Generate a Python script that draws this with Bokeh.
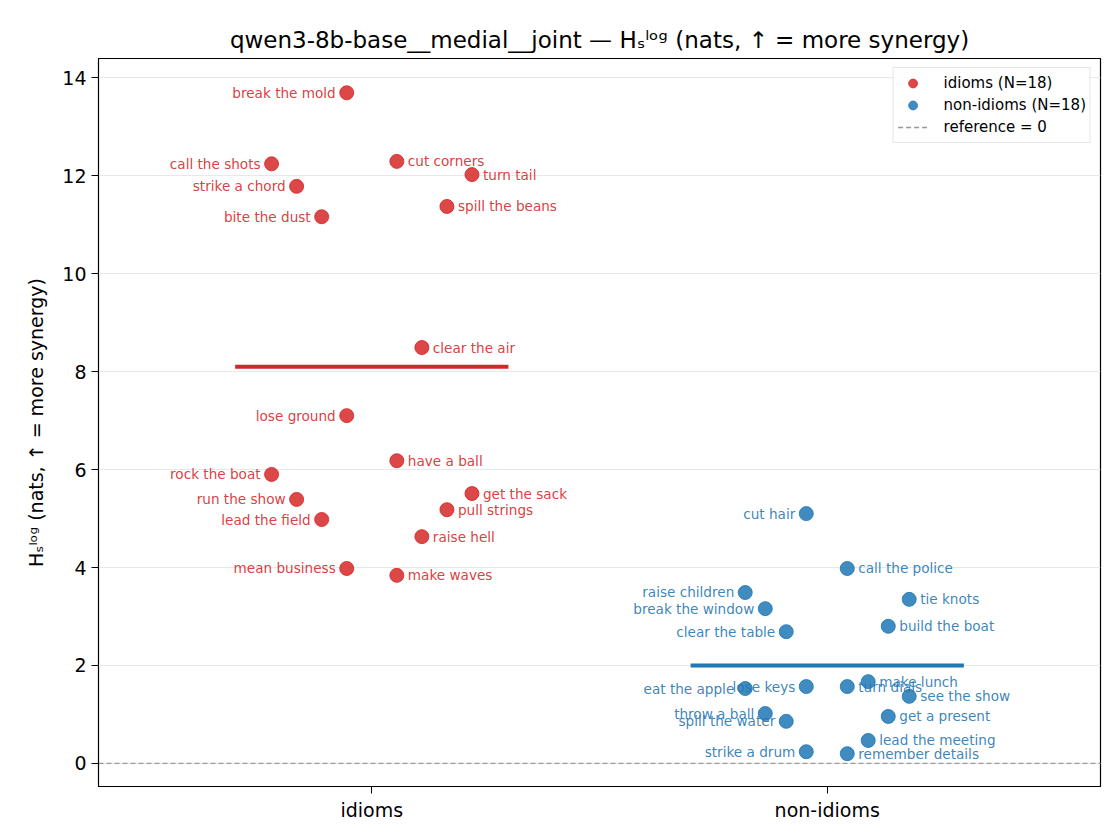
from bokeh.plotting import figure
from bokeh.models import (ColumnDataSource, FixedTicker, Span, Legend, LegendItem, Range1d)
from bokeh.core.properties import value
from bokeh.embed import file_html
from bokeh.resources import INLINE

categories = ["idioms", "non-idioms"]

idiom_names = ["break the mold", "call the shots", "cut corners", "strike a chord", "turn tail",
               "bite the dust", "spill the beans", "clear the air", "lose ground", "have a ball",
               "rock the boat", "run the show", "get the sack", "pull strings", "lead the field",
               "raise hell", "mean business", "make waves"]
idiom_values = [13.69, 12.24, 12.29, 11.78, 12.02, 11.16, 11.37, 8.49, 7.10, 6.18,
                5.90, 5.39, 5.51, 5.18, 4.98, 4.63, 3.98, 3.84]
idiom_jitter = [-0.055, -0.22, 0.055, -0.165, 0.22, -0.11, 0.165, 0.11, -0.055, 0.055,
                -0.22, -0.165, 0.22, 0.165, -0.11, 0.11, -0.055, 0.055]

nonidiom_names = ["cut hair", "call the police", "raise children", "tie knots", "break the window",
                  "build the boat", "clear the table", "make lunch", "eat the apple", "lose keys",
                  "turn dials", "see the show", "throw a ball", "spill the water", "get a present",
                  "lead the meeting", "strike a drum", "remember details"]
nonidiom_values = [5.10, 3.98, 3.49, 3.35, 3.16, 2.80, 2.69, 1.67, 1.53, 1.57,
                   1.57, 1.37, 1.02, 0.86, 0.96, 0.47, 0.24, 0.20]
nonidiom_jitter = [-0.046, 0.044, -0.18, 0.18, -0.136, 0.134, -0.09, 0.09, -0.18, -0.046,
                   0.044, 0.18, -0.136, -0.09, 0.134, 0.09, -0.046, 0.044]

reference_value = 0
x_lo, x_hi = -0.6, 1.6
y_lo, y_hi = -0.47, 14.39
colors = ["#d62728", "#1f77b4"]
FONT = "DejaVu Sans"

p = figure(width=1104, height=824, output_backend="svg", toolbar_location=None,
           x_range=Range1d(x_lo, x_hi), y_range=Range1d(y_lo, y_hi),
           min_border_left=98, min_border_right=4, min_border_top=58, min_border_bottom=38)

p.title.text = "qwen3-8b-base__medial__joint — Hₛˡᵒᵍ (nats, ↑ = more synergy)"
p.title.align = "center"
p.title.text_font = FONT
p.title.text_font_size = "23px"
p.title.text_font_style = "normal"
p.title.text_color = "black"
p.title.standoff = 12

p.outline_line_color = "black"
p.outline_line_alpha = 1
p.outline_line_width = 1.2
p.background_fill_color = "white"
p.border_fill_color = "white"

p.xgrid.visible = False
p.ygrid.grid_line_color = "#e8e8e8"
p.ygrid.grid_line_width = 1

p.xaxis.ticker = FixedTicker(ticks=list(range(len(categories))))
p.xaxis.major_label_overrides = {i: c for i, c in enumerate(categories)}
p.yaxis.ticker = FixedTicker(ticks=list(range(0, 15, 2)))
p.yaxis.axis_label = "Hₛˡᵒᵍ (nats, ↑ = more synergy)"
p.yaxis.axis_label_standoff = 12
for ax in (p.xaxis, p.yaxis):
    ax.major_label_text_font = FONT
    ax.major_label_text_font_size = "19px"
    ax.major_label_text_color = "black"
    ax.axis_label_text_font = FONT
    ax.axis_label_text_font_size = "19px"
    ax.axis_label_text_font_style = "normal"
    ax.axis_label_text_color = "black"
    ax.major_tick_out = 7
    ax.major_tick_in = 0
    ax.minor_tick_out = 0
    ax.minor_tick_in = 0
    ax.axis_line_color = "black"
    ax.major_tick_line_color = "black"
    ax.major_label_standoff = 5

groups = [(idiom_names, idiom_values, idiom_jitter), (nonidiom_names, nonidiom_values, nonidiom_jitter)]
legend_items = []
for gi, (names, vals, jit) in enumerate(groups):
    xs = [gi + j for j in jit]
    src = ColumnDataSource(dict(x=xs, y=vals, name=names))
    r = p.scatter("x", "y", source=src, size=14, fill_color=colors[gi], line_color=colors[gi],
                  fill_alpha=0.85, line_alpha=0.85, line_width=1)
    legend_items.append(LegendItem(label=f"{categories[gi]} (N={len(vals)})", renderers=[r]))
    left_idx = [i for i, j in enumerate(jit) if j < 0]
    right_idx = [i for i, j in enumerate(jit) if j >= 0]
    for idx, align, off in ((left_idx, "right", -11), (right_idx, "left", 11)):
        s2 = ColumnDataSource(dict(x=[xs[i] for i in idx], y=[vals[i] for i in idx],
                                   t=[names[i] for i in idx]))
        p.text("x", "y", text="t", source=s2, text_align=align, text_baseline="middle",
               x_offset=off, text_font=value(FONT), text_font_size="13.6px",
               text_color=colors[gi], text_alpha=0.9)
    m = sum(vals) / len(vals)
    p.segment(x0=[gi - 0.3], x1=[gi + 0.3], y0=[m], y1=[m], line_color=colors[gi],
              line_width=4)

ref_line = p.line(x=[x_lo, x_hi], y=[reference_value, reference_value], line_color="#999999",
                  line_dash="5 3", line_width=1.3)
legend_items.append(LegendItem(label=f"reference = {reference_value}", renderers=[ref_line]))

legend = Legend(items=legend_items, location="top_right")
legend.label_text_font = FONT
legend.label_text_font_size = "15px"
legend.label_text_color = "black"
legend.border_line_color = "#cccccc"
legend.border_line_width = 1
legend.background_fill_alpha = 0.9
legend.padding = 4
legend.spacing = 0
legend.margin = 9
legend.glyph_height = 22
legend.glyph_width = 30
legend.label_height = 21
legend.label_standoff = 16
p.add_layout(legend)

open("out.html", "w").write(file_html(p, INLINE))
